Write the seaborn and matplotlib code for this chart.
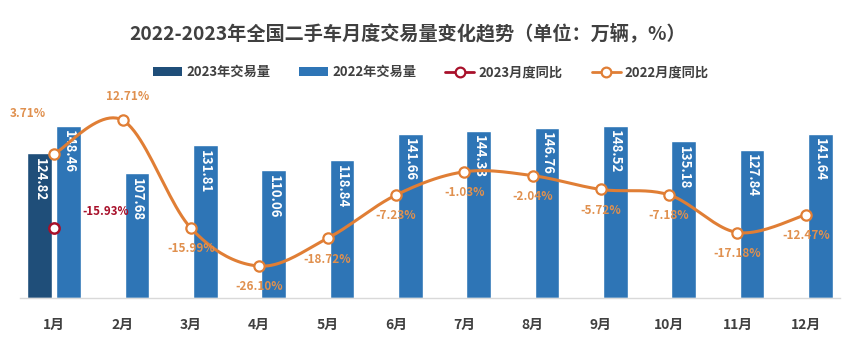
import numpy as np
import pandas as pd
import matplotlib
matplotlib.use("Agg")
import matplotlib.pyplot as plt
from matplotlib.patches import Patch
from matplotlib.lines import Line2D
import seaborn as sns

months = ["1月", "2月", "3月", "4月", "5月", "6月", "7月", "8月", "9月", "10月", "11月", "12月"]
vol_2022 = [148.46, 107.68, 131.81, 110.06, 118.84, 141.66, 144.33, 146.76, 148.52, 135.18, 127.84, 141.64]
vol_2023 = [124.82]
yoy_2022 = [3.71, 12.71, -15.99, -26.10, -18.72, -7.23, -1.03, -2.04, -5.72, -7.18, -17.18, -12.47]
yoy_2023 = [-15.93]

series_names = ["2023年交易量", "2022年交易量", "2023月度同比", "2022月度同比"]
title = "2022-2023年全国二手车月度交易量变化趋势（单位：万辆，%）"

C23 = "#1F4E79"
C22 = "#2E75B6"
CL23 = "#A8102A"
CL22 = "#E07E35"
CLBL22 = "#E0904E"
GREY = "#404040"

sns.set_theme(style="white")
plt.rcParams["font.family"] = ["Noto Sans CJK SC", "DejaVu Sans"]

rows = []
for m, v in zip(months[:len(vol_2023)], vol_2023):
    rows.append({"month": m, "series": series_names[0], "value": v})
for m, v in zip(months, vol_2022):
    rows.append({"month": m, "series": series_names[1], "value": v})
df = pd.DataFrame(rows)

fig = plt.figure(figsize=(8.67, 3.5), dpi=100)
ax = fig.add_axes([20 / 867, 52 / 350, 820 / 867, 203 / 350])

sns.barplot(data=df, x="month", y="value", hue="series", order=months,
            hue_order=series_names[:2], palette=[C23, C22],
            width=0.85, gap=0.15, dodge=True, ax=ax, legend=False,
            saturation=1, errorbar=None)
ax.set_xlim(-0.5, len(months) - 0.5)
ax.set_ylim(0, 175)

for cont in ax.containers:
    for rect in cont:
        h = rect.get_height()
        if not np.isfinite(h) or h <= 0:
            continue
        xc = rect.get_x() + rect.get_width() / 2
        ax.text(xc, h - 4, f"{h:.2f}", rotation=-90, ha="center", va="top",
                color="white", fontsize=9.5, fontweight="bold", zorder=5)

ax.set_xlabel("")
ax.set_ylabel("")
ax.set_yticks([])
ax.tick_params(axis="x", length=0, pad=14, labelsize=10, labelcolor=GREY)
for lbl in ax.get_xticklabels():
    lbl.set_fontweight("bold")
for s in ["top", "left", "right"]:
    ax.spines[s].set_visible(False)
ax.spines["bottom"].set_color("#D9D9D9")
ax.spines["bottom"].set_linewidth(1)

ax2 = ax.twinx()
ax2.set_ylim(-34.6, 19.4)
ax2.set_yticks([])
for s in ["top", "left", "right", "bottom"]:
    ax2.spines[s].set_visible(False)


def catmull_rom(xs, ys, n=24):
    xs = np.asarray(xs, float)
    ys = np.asarray(ys, float)
    P = np.column_stack([xs, ys])
    P = np.vstack([P[0], P, P[-1]])
    out = []
    for i in range(1, len(P) - 2):
        p0, p1, p2, p3 = P[i - 1], P[i], P[i + 1], P[i + 2]
        t = np.linspace(0, 1, n)[:, None]
        seg = 0.5 * ((2 * p1) + (-p0 + p2) * t + (2 * p0 - 5 * p1 + 4 * p2 - p3) * t ** 2
                     + (-p0 + 3 * p1 - 3 * p2 + p3) * t ** 3)
        out.append(seg)
    out = np.vstack(out)
    return out[:, 0], out[:, 1]


xpos = np.arange(len(months))
sx, sy = catmull_rom(xpos, yoy_2022)
ax2.plot(sx, sy, color=CL22, lw=2.2, zorder=3, solid_capstyle="round")
sns.scatterplot(x=xpos, y=yoy_2022, ax=ax2, s=55, color="white", edgecolor=CL22,
                linewidth=1.6, zorder=4, legend=False)
sns.scatterplot(x=xpos[:len(yoy_2023)], y=yoy_2023, ax=ax2, s=55, color="white",
                edgecolor=CL23, linewidth=1.8, zorder=4, legend=False)

for i, v in enumerate(yoy_2022):
    if i == 0:
        off = (-19, 29)
    elif i == 1:
        off = (4, 17)
    else:
        off = (0, -15)
    ax2.annotate(f"{v:.2f}%", (i, v), xytext=off, textcoords="offset points",
                 ha="center", va="center", color=CLBL22, fontsize=8.5, fontweight="bold",
                 zorder=6)
for i, v in enumerate(yoy_2023):
    ax2.annotate(f"{v:.2f}%", (i, v), xytext=(37, 12), textcoords="offset points",
                 ha="center", va="center", color=CL23, fontsize=8.3, fontweight="bold")

fig.text(0.47, 1 - 33 / 350, title, ha="center", va="center", fontsize=13.8,
         fontweight="bold", color=GREY)

handles = [
    Patch(facecolor=C23, edgecolor="none"),
    Patch(facecolor=C22, edgecolor="none"),
    Line2D([0], [0], color=CL23, lw=2, marker="o", mfc="white", mec=CL23, ms=7, mew=1.6),
    Line2D([0], [0], color=CL22, lw=2, marker="o", mfc="white", mec=CL22, ms=7, mew=1.6),
]
leg = fig.legend(handles, series_names, loc="center", bbox_to_anchor=(0.497, 1 - 72 / 350),
                 ncol=4, frameon=False, fontsize=9.5, handlelength=2.2, handleheight=0.6,
                 columnspacing=2.2, handletextpad=0.3)
for t in leg.get_texts():
    t.set_color(GREY)
    t.set_fontweight("bold")

fig.savefig("out.png", dpi=100)
